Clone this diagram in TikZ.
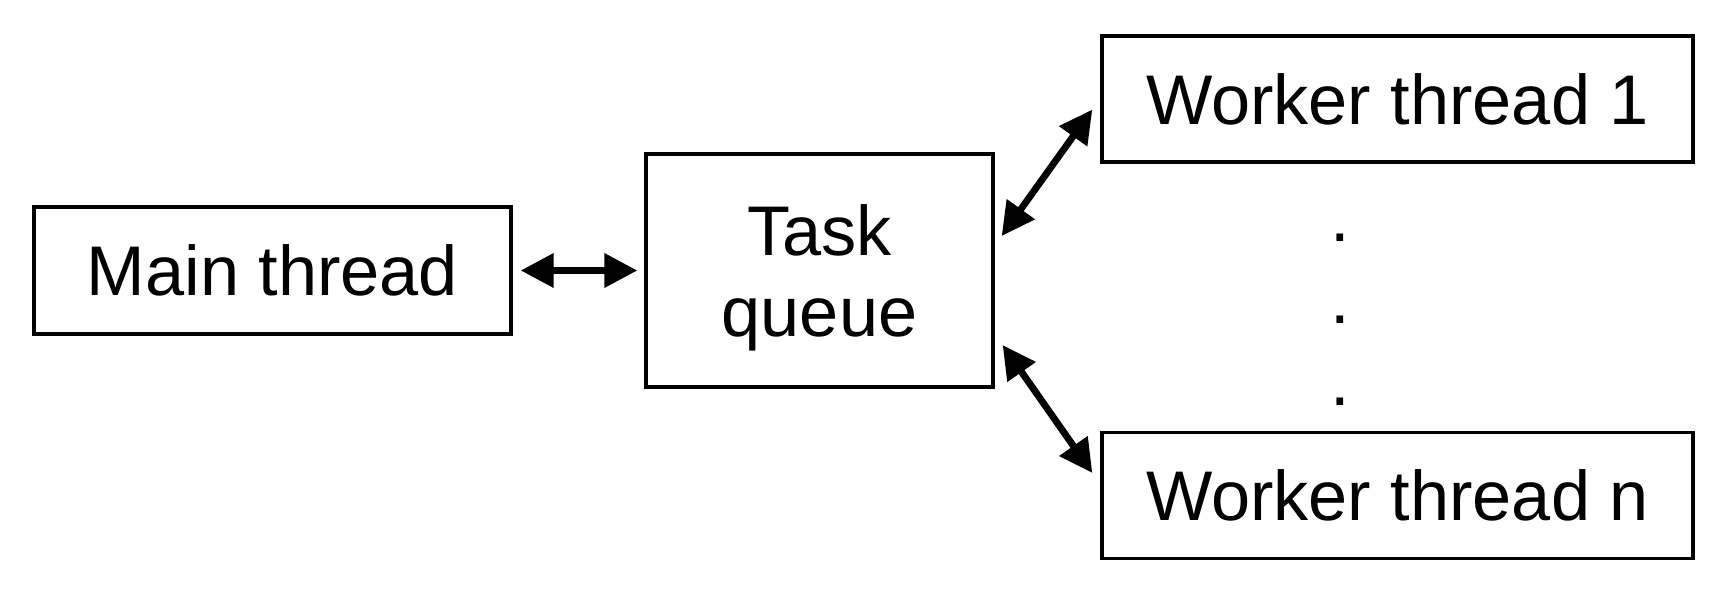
\documentclass[tikz,border=0pt]{standalone}
\usepackage{fontspec}
\setmainfont{Liberation Sans}
\usetikzlibrary{arrows.meta}

\tikzset{
    box/.style={draw, line width=1.9pt, inner sep=0pt, align=center,
        font=\fontsize{40}{46.6}\selectfont},
    link/.style={line width=3.9pt,
        {Triangle[length=0.66cm,width=0.66cm]}-{Triangle[length=0.66cm,width=0.66cm]}},
    dot/.style={inner sep=0pt, anchor=base, font=\fontsize{40}{46.6}\selectfont}
}

\begin{document}
\begin{tikzpicture}
    \useasboundingbox (0,0) rectangle (34.6,11.88);

    \node[box, minimum width=9.54cm, minimum height=2.54cm] (main) at (5.45,6.47) {Main thread};
    \node[box, minimum width=6.94cm, minimum height=4.66cm, text depth=0pt] (queue) at (16.39,6.47) {Task\\queue};
    \node[box, minimum width=11.82cm, minimum height=2.52cm] (worker1) at (27.95,9.9) {Worker thread 1};
    \node[box, minimum width=11.82cm, minimum height=2.52cm] (workern) at (27.95,1.97) {Worker thread n};

    % dots between the workers
    \node[dot] (dotA) at (26.8,7.06) {.};
    \node[dot] (dotB) at (26.8,5.42) {.};
    \node[dot] (dotC) at (26.8,3.78) {.};

    \draw[link, shorten <=0.16cm, shorten >=0.14cm] (main.east) -- (queue.west);
    \draw[link] ([shift={(0.14,0.69)}]queue.east) -- ([shift={(-0.16,-0.21)}]worker1.west);
    \draw[link] ([shift={(0.16,-1.49)}]queue.east) -- ([shift={(-0.16,0.45)}]workern.west);
\end{tikzpicture}
\end{document}
